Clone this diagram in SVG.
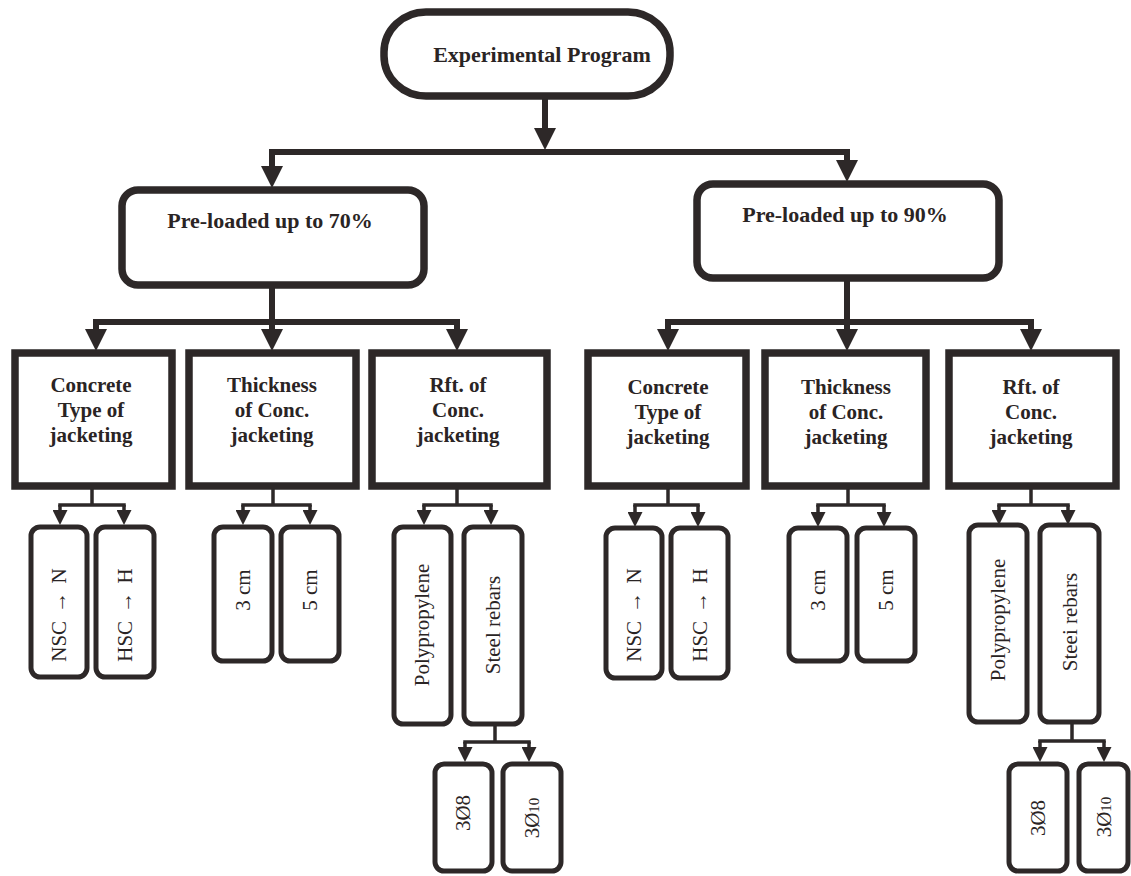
<svg xmlns="http://www.w3.org/2000/svg" width="1131" height="876" viewBox="0 0 1131 876">
<defs>
<style>
.bg{fill:#ffffff}
.n1{fill:#fff;stroke:#2d2828;stroke-width:7.5}
.n2{fill:#fff;stroke:#2d2828;stroke-width:5}
.c1{fill:none;stroke:#2d2828;stroke-width:6;stroke-linecap:square}
.c2{fill:none;stroke:#2d2828;stroke-width:3.5;stroke-linecap:square}
.a1{fill:none;stroke:#2d2828;stroke-width:6;marker-end:url(#big)}
.a2{fill:none;stroke:#2d2828;stroke-width:3.5;marker-end:url(#small)}
.tb{font-family:"Liberation Serif","Times New Roman",serif;font-weight:bold;fill:#2a2424;text-anchor:middle}
.t1{font-size:22px}
.t2{font-size:21px}
.tv{font-family:"Liberation Serif","Times New Roman",serif;font-size:21px;fill:#2a2424;text-anchor:middle}
</style>
<marker id="big" markerUnits="userSpaceOnUse" markerWidth="22" markerHeight="22" refX="6" refY="11" orient="auto">
<path d="M0,0 L22,11 L0,22 Z" fill="#2d2828"/>
</marker>
<marker id="small" markerUnits="userSpaceOnUse" markerWidth="15" markerHeight="15" refX="4" refY="7.5" orient="auto">
<path d="M0,0 L15,7.5 L0,15 Z" fill="#2d2828"/>
</marker>
</defs>
<rect class="bg" x="0" y="0" width="1131" height="876"/>

<g id="connectors">
<path class="a1" d="M545,97 V134"/>
<path class="c1" d="M272,152 H847"/>
<path class="a1" d="M272,152 V172"/>
<path class="a1" d="M847,152 V166"/>
<path class="c1" d="M272,286 V322"/>
<path class="c1" d="M96,322 H457"/>
<path class="a1" d="M96,322 V335"/>
<path class="a1" d="M272,322 V335"/>
<path class="a1" d="M457,322 V335"/>
<path class="c1" d="M847,280 V322"/>
<path class="c1" d="M668,322 H1031"/>
<path class="a1" d="M668,322 V335"/>
<path class="a1" d="M847,322 V335"/>
<path class="a1" d="M1031,322 V335"/>
<path class="c2" d="M92,489 V505 M60,505 H124"/>
<path class="a2" d="M60,505 V514"/>
<path class="a2" d="M124,505 V514"/>
<path class="c2" d="M273,489 V505 M243,505 H310"/>
<path class="a2" d="M243,505 V514"/>
<path class="a2" d="M310,505 V514"/>
<path class="c2" d="M457,489 V505 M424,505 H491"/>
<path class="a2" d="M424,505 V514"/>
<path class="a2" d="M491,505 V514"/>
<path class="c2" d="M495,726 V742 M465,742 H529"/>
<path class="a2" d="M465,742 V751"/>
<path class="a2" d="M529,742 V751"/>
<path class="c2" d="M668,489 V505 M635,505 H698"/>
<path class="a2" d="M635,505 V516"/>
<path class="a2" d="M698,505 V516"/>
<path class="c2" d="M848,489 V505 M818,505 H884"/>
<path class="a2" d="M818,505 V516"/>
<path class="a2" d="M884,505 V516"/>
<path class="c2" d="M1031,489 V505 M999,505 H1068"/>
<path class="a2" d="M999,505 V514"/>
<path class="a2" d="M1068,505 V514"/>
<path class="c2" d="M1072,724 V741 M1040,741 H1104"/>
<path class="a2" d="M1040,741 V751"/>
<path class="a2" d="M1104,741 V751"/>
</g>

<g id="experimental-program">
<rect class="n1" x="384" y="12" width="286" height="84" rx="42" ry="40"/>
<text class="tb t1" x="542" y="62">Experimental Program</text>
</g>

<g id="preloaded-70">
<rect class="n1" x="122" y="190" width="302" height="95" rx="16" ry="16"/>
<text class="tb t1" x="270" y="228">Pre-loaded up to 70%</text>
</g>
<g id="preloaded-90">
<rect class="n1" x="697" y="184" width="302" height="94" rx="16" ry="16"/>
<text class="tb t1" x="845" y="222">Pre-loaded up to 90%</text>
</g>

<g id="concrete-type-70">
<rect class="n1" x="15" y="353" width="157" height="133"/>
<text class="tb t2" x="91" y="392">Concrete</text>
<text class="tb t2" x="91" y="417">Type of</text>
<text class="tb t2" x="91" y="442">jacketing</text>
</g>
<g id="thickness-70">
<rect class="n1" x="189" y="353" width="167" height="133"/>
<text class="tb t2" x="272" y="392">Thickness</text>
<text class="tb t2" x="272" y="417">of Conc.</text>
<text class="tb t2" x="272" y="442">jacketing</text>
</g>
<g id="rft-70">
<rect class="n1" x="372" y="353" width="175" height="133"/>
<text class="tb t2" x="458" y="392">Rft. of</text>
<text class="tb t2" x="458" y="417">Conc.</text>
<text class="tb t2" x="458" y="442">jacketing</text>
</g>
<g id="concrete-type-90">
<rect class="n1" x="588" y="353" width="158" height="133"/>
<text class="tb t2" x="668" y="394">Concrete</text>
<text class="tb t2" x="668" y="419">Type of</text>
<text class="tb t2" x="668" y="444">jacketing</text>
</g>
<g id="thickness-90">
<rect class="n1" x="765" y="353" width="161" height="133"/>
<text class="tb t2" x="846" y="394">Thickness</text>
<text class="tb t2" x="846" y="419">of Conc.</text>
<text class="tb t2" x="846" y="444">jacketing</text>
</g>
<g id="rft-90">
<rect class="n1" x="949" y="353" width="167" height="133"/>
<text class="tb t2" x="1031" y="394">Rft. of</text>
<text class="tb t2" x="1031" y="419">Conc.</text>
<text class="tb t2" x="1031" y="444">jacketing</text>
</g>

<g id="nsc-70">
<rect class="n2" x="31" y="527" width="56" height="150" rx="9"/>
<text class="tv" transform="translate(59,615) rotate(-90)" dy="0.35em">NSC <tspan dx="3">→</tspan><tspan dx="3"> N</tspan></text>
</g>
<g id="hsc-70">
<rect class="n2" x="96" y="527" width="58" height="150" rx="9"/>
<text class="tv" transform="translate(125,615) rotate(-90)" dy="0.35em">HSC <tspan dx="3">→</tspan><tspan dx="3"> H</tspan></text>
</g>
<g id="3cm-70">
<rect class="n2" x="214" y="527" width="58" height="134" rx="9"/>
<text class="tv" transform="translate(243,590) rotate(-90)" dy="0.35em">3 cm</text>
</g>
<g id="5cm-70">
<rect class="n2" x="281" y="527" width="58" height="134" rx="9"/>
<text class="tv" transform="translate(310,590) rotate(-90)" dy="0.35em">5 cm</text>
</g>
<g id="poly-70">
<rect class="n2" x="394" y="527" width="57" height="197" rx="9"/>
<text class="tv" transform="translate(422,625) rotate(-90)" dy="0.35em">Polypropylene</text>
</g>
<g id="steel-70">
<rect class="n2" x="464" y="527" width="58" height="197" rx="9"/>
<text class="tv" transform="translate(493,625) rotate(-90)" dy="0.35em">Steel rebars</text>
</g>
<g id="3d8-70">
<rect class="n2" x="435" y="764" width="57" height="107" rx="9"/>
<text class="tv" transform="translate(463,813) rotate(-90)" dy="0.35em">3Ø8</text>
</g>
<g id="3d10-70">
<rect class="n2" x="503" y="764" width="58" height="107" rx="9"/>
<text class="tv" transform="translate(532,818) rotate(-90)" dy="0.35em">3Ø<tspan font-size="15">10</tspan></text>
</g>

<g id="nsc-90">
<rect class="n2" x="606" y="528" width="56" height="150" rx="9"/>
<text class="tv" transform="translate(634,615) rotate(-90)" dy="0.35em">NSC <tspan dx="3">→</tspan><tspan dx="3"> N</tspan></text>
</g>
<g id="hsc-90">
<rect class="n2" x="671" y="528" width="57" height="150" rx="9"/>
<text class="tv" transform="translate(700,615) rotate(-90)" dy="0.35em">HSC <tspan dx="3">→</tspan><tspan dx="3"> H</tspan></text>
</g>
<g id="3cm-90">
<rect class="n2" x="789" y="528" width="58" height="133" rx="9"/>
<text class="tv" transform="translate(818,590) rotate(-90)" dy="0.35em">3 cm</text>
</g>
<g id="5cm-90">
<rect class="n2" x="857" y="528" width="58" height="133" rx="9"/>
<text class="tv" transform="translate(886,590) rotate(-90)" dy="0.35em">5 cm</text>
</g>
<g id="poly-90">
<rect class="n2" x="969" y="525" width="58" height="197" rx="9"/>
<text class="tv" transform="translate(998,620) rotate(-90)" dy="0.35em">Polypropylene</text>
</g>
<g id="steel-90">
<rect class="n2" x="1040" y="525" width="59" height="197" rx="9"/>
<text class="tv" transform="translate(1070,622) rotate(-90)" dy="0.35em">Steei rebars</text>
</g>
<g id="3d8-90">
<rect class="n2" x="1009" y="764" width="58" height="107" rx="9"/>
<text class="tv" transform="translate(1038,818) rotate(-90)" dy="0.35em">3Ø8</text>
</g>
<g id="3d10-90">
<rect class="n2" x="1079" y="764" width="49" height="107" rx="9"/>
<text class="tv" transform="translate(1104,817) rotate(-90)" dy="0.35em">3Ø<tspan font-size="15">10</tspan></text>
</g>
</svg>
